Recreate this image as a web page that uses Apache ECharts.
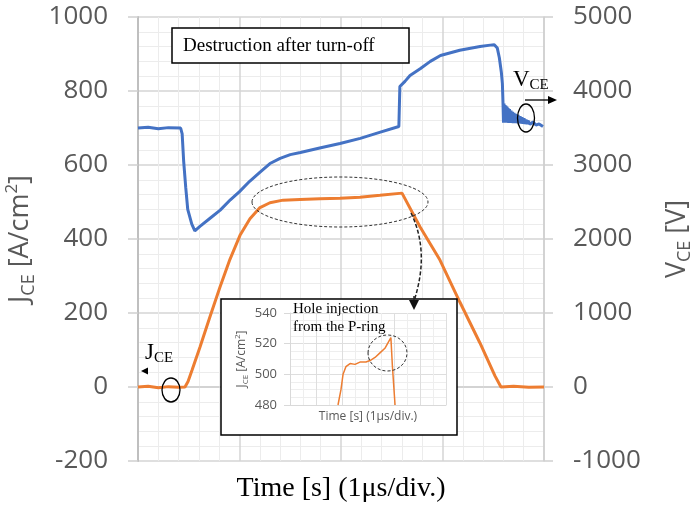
<!DOCTYPE html>
<html>
<head>
<meta charset="utf-8">
<script src="https://cdn.jsdelivr.net/npm/echarts@6/dist/echarts.min.js"></script>
<style>
  html,body{margin:0;padding:0;background:#fff;}
  #chart{width:693px;height:515px;}
</style>
</head>
<body>
<div id="chart"></div>
<script>
  // J_CE (A/cm2) vs time (us)
  var jTime = [0, 0.1, 0.2, 0.3, 0.4, 0.463, 0.493, 0.532, 0.611, 0.709, 0.808, 0.906, 1.005, 1.103, 1.202, 1.300, 1.429, 1.596, 1.793, 1.990, 2.187, 2.384, 2.601, 2.778, 2.975, 3.172, 3.369, 3.517, 3.576, 3.70, 3.85, 4.0];
  var jVal  = [0, 2, -2, 1, -1, 0, 15, 45, 108, 190, 270, 345, 410, 455, 485, 498, 505, 507, 509, 510, 513, 518, 524, 433, 343, 229, 119, 30, 0, 2, -1, 0];

  // V_CE (V) vs time (us)
  var vTime = [0, 0.1, 0.2, 0.3, 0.42, 0.435, 0.45, 0.47, 0.49, 0.53, 0.56, 0.61, 0.71, 0.81, 0.91, 1.0, 1.10, 1.20, 1.30, 1.40, 1.50, 1.60, 1.79, 1.99, 2.19, 2.38, 2.57, 2.58, 2.63, 2.68, 2.78, 2.88, 2.98, 3.17, 3.37, 3.47, 3.51, 3.54, 3.56, 3.58, 3.59, 3.596,
               3.601, 3.606, 3.611, 3.616, 3.621, 3.626, 3.631, 3.636, 3.641, 3.646, 3.653, 3.660, 3.668, 3.675, 3.683, 3.690, 3.697, 3.704, 3.714, 3.724, 3.734, 3.744, 3.754, 3.764, 3.774, 3.783, 3.793, 3.803, 3.813, 3.823, 3.833, 3.842, 3.862, 3.892, 3.921, 3.951, 3.990];
  var vVal  = [3500, 3510, 3490, 3505, 3500, 3420, 3050, 2700, 2400, 2200, 2110, 2170, 2280, 2390, 2530, 2640, 2780, 2900, 3020, 3090, 3140, 3170, 3230, 3290, 3360, 3440, 3520, 4060, 4130, 4210, 4300, 4400, 4480, 4550, 4600, 4620, 4625, 4580, 4450, 4250, 4100, 3840,
               3570, 3830, 3570, 3810, 3575, 3800, 3570, 3785, 3570, 3770, 3570, 3755, 3570, 3735, 3568, 3720, 3566, 3705, 3565, 3690, 3565, 3675, 3562, 3660, 3560, 3645, 3558, 3630, 3555, 3615, 3552, 3600, 3550, 3580, 3540, 3555, 3520];

  // inset: zoomed J_CE
  var insetTime = [1.846, 1.96, 2.04, 2.15, 2.31, 2.5, 2.69, 2.92, 3.08, 3.27, 3.46, 3.65, 3.88, 3.94, 4.04];
  var insetVal  = [480, 490, 500, 505, 507, 506.5, 508, 508, 509, 511, 514, 517, 524, 505, 480];

  function pairs(x, y){
    return x.map(function(v, i){ return [v, y[i]]; });
  }
  function plain(v){ return String(v); }

  var grey = '#595959';
  var sans = 'Open Sans';
  var serif = 'Liberation Serif';

  var chart = echarts.init(document.getElementById('chart'));

  var option = {
    backgroundColor: '#fff',
    animation: false,
    grid: [
      {left: 138, right: 149, top: 17, bottom: 54, outerBoundsMode: 'none', containLabel: false},
      {left: 290, right: 247, top: 313, bottom: 110, z: 20, outerBoundsMode: 'none', containLabel: false}
    ],
    xAxis: [
      {
        type: 'value', gridIndex: 0, min: 0, max: 4, interval: 1,
        name: 'Time [s] (1\u03bcs/div.)', nameLocation: 'middle', nameGap: 14,
        nameTextStyle: {fontFamily: serif, fontSize: 28, color: '#000'},
        axisLabel: {show: false},
        axisTick: {show: false},
        axisLine: {show: true, lineStyle: {color: '#cfcfcf', width: 1.5}},
        splitLine: {show: true, lineStyle: {color: '#d4d4d4', width: 1.5}},
        minorTick: {show: false, splitNumber: 5},
        minorSplitLine: {show: true, lineStyle: {color: '#ececec', width: 1}}
      },
      {
        type: 'value', gridIndex: 1, min: 0, max: 6, interval: 1, z: 20,
        name: 'Time [s] (1\u03bcs/div.)', nameLocation: 'middle', nameGap: 6,
        nameTextStyle: {fontFamily: sans, fontSize: 12, color: grey},
        axisLabel: {show: false},
        axisTick: {show: false},
        axisLine: {show: true, lineStyle: {color: '#d9d9d9', width: 1}},
        splitLine: {show: true, lineStyle: {color: '#dedede', width: 1}},
        minorTick: {show: false, splitNumber: 2},
        minorSplitLine: {show: true, lineStyle: {color: '#eeeeee', width: 1}}
      }
    ],
    yAxis: [
      {
        type: 'value', gridIndex: 0, min: -200, max: 1000, interval: 200,
        name: '{j|J}{s|CE}{j| [A/cm}{p|2}{j|]}', nameLocation: 'middle', nameGap: 100, nameRotate: 90,
        nameTextStyle: {
          color: grey,
          rich: {
            j: {fontFamily: sans, fontSize: 27, color: grey, lineHeight: 34},
            s: {fontFamily: sans, fontSize: 18, color: grey, lineHeight: 17, verticalAlign: 'bottom'},
            p: {fontFamily: sans, fontSize: 17, color: grey, lineHeight: 16, verticalAlign: 'top'}
          }
        },
        axisLabel: {fontFamily: sans, fontSize: 26, color: grey, margin: 30, formatter: plain},
        axisTick: {show: true, length: 10, lineStyle: {color: '#cfcfcf', width: 1.5}},
        axisLine: {show: true, lineStyle: {color: '#bfbfbf', width: 2}},
        splitLine: {show: true, lineStyle: {color: '#d4d4d4', width: 1.5}},
        minorTick: {show: false, splitNumber: 5},
        minorSplitLine: {show: true, lineStyle: {color: '#ececec', width: 1}}
      },
      {
        type: 'value', gridIndex: 0, position: 'right', min: -1000, max: 5000, interval: 1000,
        name: '{j|V}{s|CE}{j| [V]}', nameLocation: 'middle', nameGap: 116, nameRotate: 90,
        nameTextStyle: {
          color: grey,
          rich: {
            j: {fontFamily: sans, fontSize: 27, color: grey, lineHeight: 34},
            s: {fontFamily: sans, fontSize: 18, color: grey, lineHeight: 17, verticalAlign: 'bottom'}
          }
        },
        axisLabel: {fontFamily: sans, fontSize: 26, color: grey, margin: 29, formatter: plain},
        axisTick: {show: true, length: 9, lineStyle: {color: '#cfcfcf', width: 1.5}},
        axisLine: {show: true, lineStyle: {color: '#cfcfcf', width: 1.5}},
        splitLine: {show: false}
      },
      {
        type: 'value', gridIndex: 1, min: 480, max: 540, interval: 20, z: 20,
        name: '{j|J}{s|CE}{j| [A/cm}{p|2}{j|]}', nameLocation: 'middle', nameGap: 40, nameRotate: 90,
        nameTextStyle: {
          color: grey,
          rich: {
            j: {fontFamily: sans, fontSize: 12, color: grey, lineHeight: 16},
            s: {fontFamily: sans, fontSize: 8, color: grey, lineHeight: 8, verticalAlign: 'bottom'},
            p: {fontFamily: sans, fontSize: 8, color: grey, lineHeight: 8, verticalAlign: 'top'}
          }
        },
        axisLabel: {fontFamily: sans, fontSize: 13, color: grey, margin: 13, formatter: plain},
        axisTick: {show: true, length: 6, lineStyle: {color: '#d9d9d9'}},
        axisLine: {show: true, lineStyle: {color: '#d9d9d9', width: 1}},
        splitLine: {show: true, lineStyle: {color: '#dedede', width: 1}},
        minorTick: {show: false, splitNumber: 4},
        minorSplitLine: {show: true, lineStyle: {color: '#eeeeee', width: 1}}
      }
    ],
    series: [
      {
        name: 'V_CE', type: 'line', xAxisIndex: 0, yAxisIndex: 1,
        data: pairs(vTime, vVal), showSymbol: false, symbol: 'none',
        lineStyle: {color: '#4472C4', width: 3}, z: 3
      },
      {
        name: 'J_CE', type: 'line', xAxisIndex: 0, yAxisIndex: 0,
        data: pairs(jTime, jVal), showSymbol: false, symbol: 'none',
        lineStyle: {color: '#ED7D31', width: 3}, z: 4
      },
      {
        name: 'J_CE zoom', type: 'line', xAxisIndex: 1, yAxisIndex: 2,
        data: pairs(insetTime, insetVal), showSymbol: false, symbol: 'none',
        lineStyle: {color: '#ED7D31', width: 1.5}, z: 22
      }
    ],
    graphic: [
      // title box
      {type: 'rect', z: 10, shape: {x: 172, y: 28, width: 237, height: 35},
        style: {fill: '#fff', stroke: '#000', lineWidth: 1.5}},
      {type: 'text', z: 11, x: 183, y: 46,
        style: {text: 'Destruction after turn-off', font: '19px "Liberation Serif"', fill: '#000', verticalAlign: 'middle'}},
      // V_CE marker
      {type: 'text', z: 11, x: 513, y: 80,
        style: {text: '{v|V}{s|CE}', verticalAlign: 'middle', fill: '#000',
          rich: {v: {fontFamily: serif, fontSize: 23, lineHeight: 26, fill: '#000'},
                 s: {fontFamily: serif, fontSize: 15, lineHeight: 15, verticalAlign: 'bottom', fill: '#000'}}}},
      {type: 'line', z: 11, shape: {x1: 525, y1: 100, x2: 550, y2: 100}, style: {stroke: '#000', lineWidth: 1.3}},
      {type: 'polygon', z: 11, shape: {points: [[557, 100], [548, 96], [548, 104]]}, style: {fill: '#000'}},
      {type: 'ellipse', z: 11, shape: {cx: 526, cy: 118, rx: 8.5, ry: 14}, style: {fill: 'none', stroke: '#000', lineWidth: 1.3}},
      // J_CE marker
      {type: 'text', z: 11, x: 145, y: 353,
        style: {text: '{v|J}{s|CE}', verticalAlign: 'middle', fill: '#000',
          rich: {v: {fontFamily: serif, fontSize: 23, lineHeight: 26, fill: '#000'},
                 s: {fontFamily: serif, fontSize: 15, lineHeight: 15, verticalAlign: 'bottom', fill: '#000'}}}},
      {type: 'polygon', z: 11, shape: {points: [[141, 371], [148, 367.5], [148, 374.5]]}, style: {fill: '#000'}},
      {type: 'ellipse', z: 11, shape: {cx: 171, cy: 390, rx: 9, ry: 12}, style: {fill: 'none', stroke: '#000', lineWidth: 1.3}},
      // dashed ellipse around plateau and arrow to inset
      {type: 'ellipse', z: 11, shape: {cx: 340, cy: 202, rx: 88, ry: 25},
        style: {fill: 'none', stroke: '#333', lineWidth: 1, lineDash: [3, 2]}},
      {type: 'bezierCurve', z: 11, shape: {x1: 411, y1: 213, cpx1: 430, cpy1: 252, x2: 414, y2: 301},
        style: {fill: 'none', stroke: '#222', lineWidth: 1.5, lineDash: [4, 2]}},
      // inset frame
      {type: 'rect', z: 12, shape: {x: 221, y: 299, width: 236, height: 136},
        style: {fill: '#fff', stroke: '#000', lineWidth: 1.5}},
      {type: 'line', z: 31, shape: {x1: 414, y1: 296, x2: 414, y2: 302}, style: {stroke: '#222', lineWidth: 1.5}},
      {type: 'polygon', z: 31, shape: {points: [[409, 300], [419, 300], [414, 310]]}, style: {fill: '#111'}},
      {type: 'text', z: 30, x: 293, y: 309,
        style: {text: 'Hole injection', font: '15px "Liberation Serif"', fill: '#000', verticalAlign: 'middle'}},
      {type: 'text', z: 30, x: 293, y: 327,
        style: {text: 'from the P-ring', font: '15px "Liberation Serif"', fill: '#000', verticalAlign: 'middle'}},
      {type: 'ellipse', z: 30, shape: {cx: 387.5, cy: 353, rx: 19.5, ry: 18},
        style: {fill: 'none', stroke: '#333', lineWidth: 1, lineDash: [3, 2]}}
    ]
  };

  chart.setOption(option);
  window.addEventListener('resize', function(){ chart.resize(); });
</script>
</body>
</html>
